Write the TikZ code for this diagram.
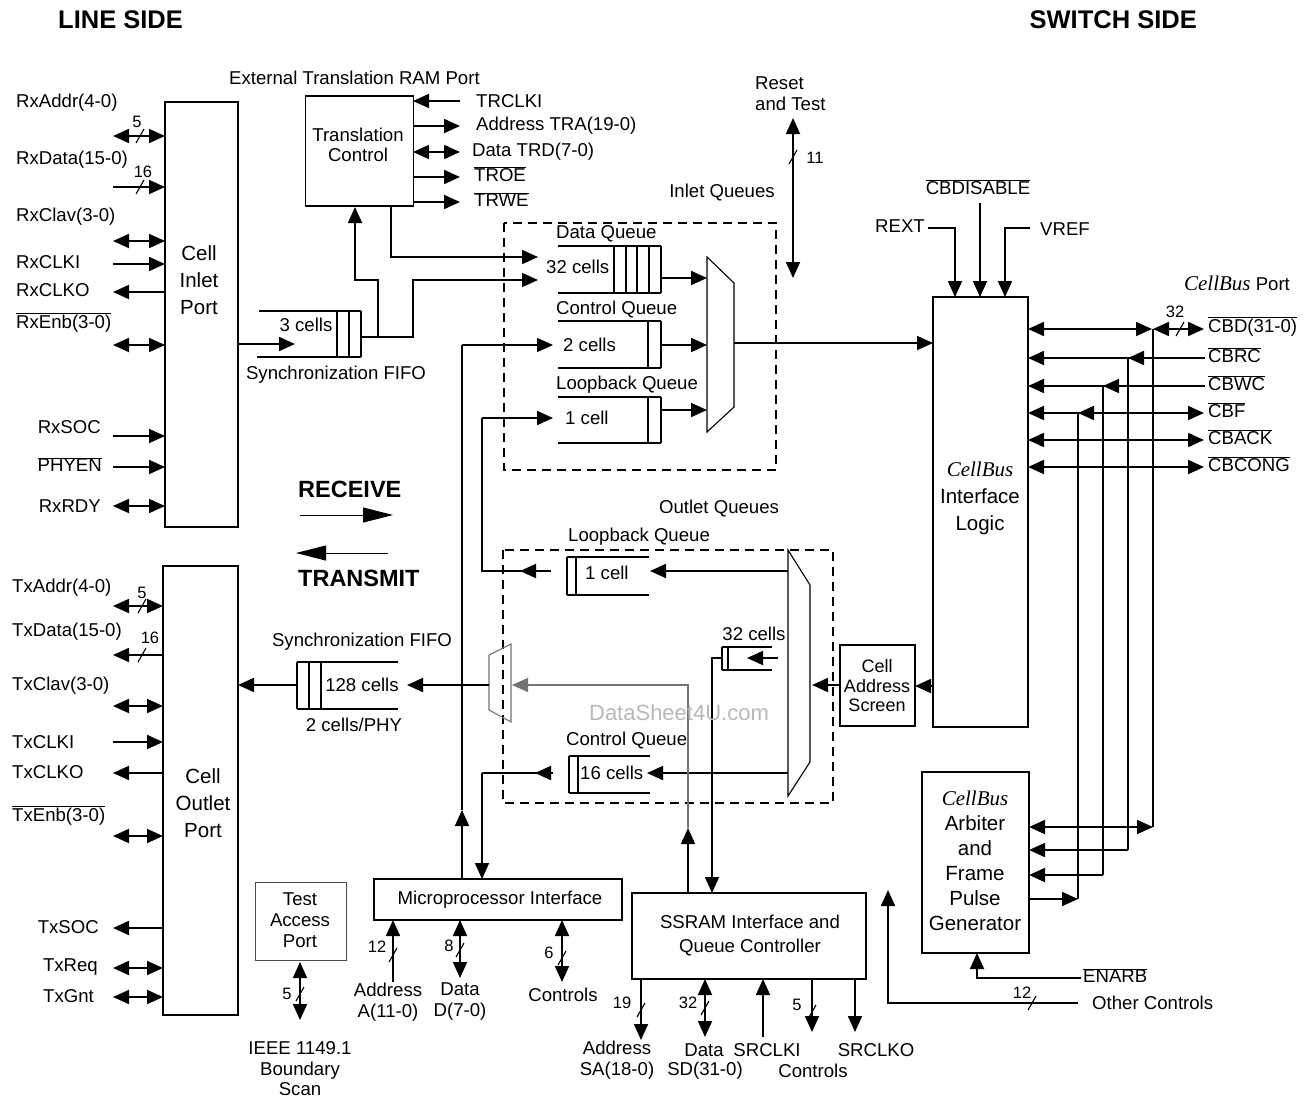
\documentclass[tikz,border=0pt]{standalone}
\usepackage{fontspec}
\setmainfont{Liberation Sans}
\newfontfamily\tms{Liberation Serif}
\usetikzlibrary{arrows.meta,calc}
\newcommand\fsk[1]{\fontsize{18.6}{#1}\selectfont}
\newcommand\fbig{\fontsize{20.5}{27}\selectfont}
\newcommand\fnum{\fontsize{16.5}{18}\selectfont}
\newcommand\fhdr{\fontsize{25.5}{30}\selectfont\bfseries}
\newcommand\fcb{\tms\itshape\fontsize{21}{25}\selectfont}
\newcommand\ovl[1]{$\overline{\hbox{#1}}$}
\newcommand\sigslash[1]{\draw[slashst] (#1) ++(-4,7) -- ++(8,-14);}
\tikzset{
  sig/.style={line width=1.8pt},
  arr/.style={sig,-{Triangle[length=16pt,width=14pt]}},
  darr/.style={sig,{Triangle[length=16pt,width=14pt]}-{Triangle[length=16pt,width=14pt]}},
  blk/.style={draw,line width=1.8pt,inner sep=0pt},
  txt/.style={font=\fsk{21},inner sep=0pt,align=center},
  ovlab/.style={txt,yshift=2.5pt},
  btxt/.style={font=\fbig,inner sep=0pt,align=center},
  num/.style={font=\fnum,inner sep=0pt},
  hdr/.style={font=\fhdr,inner sep=0pt},
  qline/.style={line width=1.8pt},
  muxst/.style={line width=1.1pt},
  dbox/.style={line width=1.8pt,dash pattern=on 9pt off 6pt},
  slashst/.style={line width=1.1pt},
  dirarr/.style={line width=1pt,-{Triangle[length=30pt,width=15pt]}},
}
\begin{document}
\begin{tikzpicture}[x=1pt,y=-1pt]
\useasboundingbox (0,0) rectangle (1308,1098);

% headers
\node[hdr,anchor=west] (lineside) at (58,20) {LINE SIDE};
\node[hdr,anchor=east] (switchside) at (1197,20) {SWITCH SIDE};

% ---------------- Cell Inlet Port ----------------
\node[blk,minimum width=73pt,minimum height=425pt] (inlet) at (201.5,314.5) {};
\node[btxt] (inlettxt) at (199,280) {Cell\\Inlet\\Port};

\node[txt,anchor=west] (rxaddr) at (16,103) {RxAddr(4-0)};
\draw[darr] (113,136) -- (165,136); \sigslash{140,136}
\node[num] (n5a) at (137,122) {5};
\node[txt,anchor=west] (rxdata) at (16,160) {RxData(15-0)};
\draw[arr] (113,187) -- (165,187); \sigslash{140,187}
\node[num] (n16a) at (143,172) {16};
\node[txt,anchor=west] (rxclav) at (16,217) {RxClav(3-0)};
\draw[darr] (113,241) -- (165,241);
\node[txt,anchor=west] (rxclki) at (16,262) {RxCLKI};
\draw[arr] (113,264) -- (165,264);
\node[txt,anchor=west] (rxclko) at (16,290) {RxCLKO};
\draw[arr] (165,292) -- (113,292);
\node[ovlab,anchor=west] (rxenb) at (16,325) {\ovl{RxEnb(3-0)}};
\draw[darr] (113,345) -- (165,345);
\node[txt,anchor=east] (rxsoc) at (101,427) {RxSOC};
\draw[arr] (113,436) -- (165,436);
\node[ovlab,anchor=east] (phyen) at (102,467) {\ovl{PHYEN}};
\draw[arr] (113,467) -- (165,467);
\node[txt,anchor=east] (rxrdy) at (101,506) {RxRDY};
\draw[darr] (113,506) -- (165,506);

% ---------------- Cell Outlet Port ----------------
\node[blk,minimum width=75pt,minimum height=449pt] (outlet) at (200.5,790.5) {};
\node[btxt] (outlettxt) at (203,803) {Cell\\Outlet\\Port};

\node[txt,anchor=west] (txaddr) at (12,588) {TxAddr(4-0)};
\draw[darr] (113,606) -- (163,606); \sigslash{142,606}
\node[num] (n5b) at (142,593) {5};
\node[txt,anchor=west] (txdata) at (12,632) {TxData(15-0)};
\draw[arr] (163,655) -- (113,655); \sigslash{142,655}
\node[num] (n16b) at (150,638) {16};
\node[txt,anchor=west] (txclav) at (12,686) {TxClav(3-0)};
\draw[darr] (113,706) -- (163,706);
\node[txt,anchor=west] (txclki) at (12,742) {TxCLKI};
\draw[arr] (113,742) -- (163,742);
\node[txt,anchor=west] (txclko) at (12,772) {TxCLKO};
\draw[arr] (163,773) -- (113,773);
\node[ovlab,anchor=west] (txenb) at (12,818) {\ovl{TxEnb(3-0)}};
\draw[darr] (113,836) -- (163,836);
\node[txt,anchor=east] (txsoc) at (99,927) {TxSOC};
\draw[arr] (163,928) -- (113,928);
\node[txt,anchor=east] (txreq) at (98,967) {TxReq};
\draw[darr] (113,968) -- (163,968);
\node[txt,anchor=east] (txgnt) at (94,996) {TxGnt};
\draw[darr] (113,997) -- (163,997);

% ---------------- Translation Control ----------------
\node[txt,anchor=west] (ext) at (229,78) {External Translation RAM Port};
\node[blk,minimum width=108pt,minimum height=110pt] (trans) at (359.5,151) {};
\node[txt,font=\fsk{20}] (transtxt) at (358,145) {Translation\\Control};
\draw[arr] (460,101) -- (413,101);
\node[txt,anchor=west] (trclki) at (476,101) {TRCLKI};
\draw[arr] (413,126) -- (460,126);
\node[txt,anchor=west] (tra) at (476,126) {Address TRA(19-0)};
\draw[darr] (413,152) -- (460,152);
\node[txt,anchor=west] (trd) at (472,152) {Data TRD(7-0)};
\draw[arr] (413,177) -- (460,177);
\node[ovlab,anchor=west] (troe) at (474,177) {\ovl{TROE}};
\draw[arr] (413,202) -- (460,202);
\node[ovlab,anchor=west] (trwe) at (474,202) {\ovl{TRWE}};

% links below translation control
\draw[arr] (378,337) -- (378,280) -- (355,280) -- (355,207);
\draw[arr] (391,207) -- (391,257) -- (538,257);
\draw[arr] (361,337) -- (413,337) -- (413,280) -- (538,280);

% 3-cell sync FIFO
\draw[qline] (259,311) -- (361,311);
\draw[qline] (257,357) -- (361,357);
\foreach \xx in {337,349,361} \draw[qline] (\xx,311) -- (\xx,357);
\node[txt] (c3) at (306,325) {3 cells};
\draw[arr] (238,344) -- (295,344);
\node[txt] (sfifo1) at (336,375) {Synchronization FIFO};

% ---------------- Inlet Queues ----------------
\draw[dbox] (504,223) rectangle (776,470);
\node[txt] (inq) at (722,193) {Inlet Queues};

\node[txt,anchor=west] (dq) at (556,234) {Data Queue};
\draw[qline] (558,246) -- (661,246);
\draw[qline] (558,293) -- (661,293);
\foreach \xx in {614,626,637,649,661} \draw[qline] (\xx,246) -- (\xx,293);
\node[txt,anchor=west] (c32a) at (546,267) {32 cells};
\draw[arr] (661,278) -- (707,278);

\node[txt,anchor=west] (cq) at (556,310) {Control Queue};
\draw[qline] (558,321) -- (661,321);
\draw[qline] (558,368) -- (661,368);
\foreach \xx in {648,661} \draw[qline] (\xx,321) -- (\xx,368);
\node[txt,anchor=west] (c2) at (563,345) {2 cells};
\draw[arr] (661,345) -- (707,345);

\node[txt,anchor=west] (lq) at (556,385) {Loopback Queue};
\draw[qline] (558,397) -- (661,397);
\draw[qline] (558,443) -- (661,443);
\foreach \xx in {648,661} \draw[qline] (\xx,397) -- (\xx,443);
\node[txt,anchor=west] (c1a) at (565,418) {1 cell};
\draw[arr] (661,410) -- (707,410);

\draw[muxst] (707,257) -- (734,283) -- (734,407) -- (707,432) -- cycle;
\draw[arr] (734,343) -- (933,343);

% Reset and Test
\node[txt,anchor=west,align=left] (reset) at (755,94) {Reset\\and Test};
\draw[darr] (793,118) -- (793,278); \sigslash{793,157}
\node[num] (n11) at (815,158) {11};

% ---------------- CellBus Interface Logic ----------------
\node[blk,minimum width=95pt,minimum height=430pt] (cbil) at (980.5,512) {};
\node[btxt] (cbiltxt) at (980,498) {{\fcb CellBus}\\Interface\\Logic};

\node[txt,anchor=east] (rext) at (925,226) {REXT};
\draw[arr] (928,228) -- (955,228) -- (955,297);
\node[ovlab] (cbdis) at (978,190) {\ovl{CBDISABLE}};
\draw[arr] (980,203) -- (980,297);
\node[txt,anchor=west] (vref) at (1040,229) {VREF};
\draw[arr] (1030,228) -- (1005,228) -- (1005,297);

\node[txt] (cbport) at (1237,283) {{\fcb CellBus} Port};

% CellBus signals
\draw[darr] (1028,329) -- (1152,329);
\draw[darr] (1153,329) -- (1204,329); \sigslash{1180,329}
\node[num] (n32a) at (1175,312) {32};
\node[ovlab,anchor=west] (cbd) at (1208,329) {\ovl{CBD(31-0)}};
\draw[arr] (1205,358) -- (1028,358);
\draw[arr] (1160,358) -- (1128,358);
\node[ovlab,anchor=west] (cbrc) at (1208,358) {\ovl{CBRC}};
\draw[arr] (1205,386) -- (1028,386);
\draw[arr] (1135,386) -- (1103,386);
\node[ovlab,anchor=west] (cbwc) at (1208,386) {\ovl{CBWC}};
\draw[darr] (1028,413) -- (1204,413);
\draw[arr] (1110,413) -- (1078,413);
\node[ovlab,anchor=west] (cbf) at (1208,413) {\ovl{CBF}};
\draw[darr] (1028,440) -- (1204,440);
\node[ovlab,anchor=west] (cback) at (1208,440) {\ovl{CBACK}};
\draw[darr] (1028,467) -- (1204,467);
\node[ovlab,anchor=west] (cbcong) at (1208,467) {\ovl{CBCONG}};

\draw[sig] (1153,329) -- (1153,827);
\draw[sig] (1128,358) -- (1128,850);
\draw[sig] (1103,386) -- (1103,875);
\draw[sig] (1078,413) -- (1078,899);

% ---------------- Arbiter ----------------
\node[blk,minimum width=107pt,minimum height=181pt] (arb) at (975.5,862.5) {};
\node[btxt,font=\fontsize{20.5}{25}\selectfont] (arbtxt) at (975,861) {{\fcb CellBus}\\Arbiter\\and\\Frame\\Pulse\\Generator};
\draw[darr] (1029,827) -- (1153,827);
\draw[arr] (1128,850) -- (1029,850);
\draw[arr] (1103,875) -- (1029,875);
\draw[arr] (1029,899) -- (1078,899);

\node[ovlab,anchor=west] (enarb) at (1083,978) {\ovl{ENARB}};
\draw[arr] (1081,978) -- (977,978) -- (977,953);
\node[txt,anchor=west] (othc) at (1092,1003) {Other Controls};
\draw[arr] (1078,1003) -- (888,1003) -- (888,890); \sigslash{1032,1003}
\node[num] (n12b) at (1022,993) {12};

% ---------------- Cell Address Screen ----------------
\node[blk,minimum width=75pt,minimum height=81pt] (screen) at (877.5,685.5) {};
\node[txt,font=\fontsize{18}{19.5}\selectfont] (screentxt) at (877,686) {Cell\\Address\\Screen};
\draw[arr] (933,686) -- (915,686);
\draw[arr] (840,685) -- (812,685);

% ---------------- Outlet Queues ----------------
\draw[dbox] (503,550) rectangle (833,803);
\node[txt] (outq) at (719,509) {Outlet Queues};
\node[txt,anchor=west] (olq) at (568,537) {Loopback Queue};

\draw[muxst] (788,550) -- (810,585) -- (810,762) -- (788,796) -- cycle;

% outlet loopback queue
\draw[qline] (567,557) -- (649,557);
\draw[qline] (567,595) -- (649,595);
\foreach \xx in {567,576} \draw[qline] (\xx,557) -- (\xx,595);
\node[txt,anchor=west] (c1b) at (585,573) {1 cell};
\draw[arr] (788,571) -- (650,571);
\draw[sig] (551,571) -- (482,571) -- (482,418);
\draw[arr] (551,571) -- (520,571);
\draw[arr] (482,418) -- (553,418);

% 32 cells queue
\node[txt] (c32b) at (754,634) {32 cells};
\draw[qline] (722,647) -- (772,647);
\draw[qline] (722,670) -- (772,670);
\foreach \xx in {722,728} \draw[qline] (\xx,647) -- (\xx,670);
\draw[arr] (778,658) -- (747,658);
\draw[arr] (722,658) -- (712,658) -- (712,893);

% outlet control queue
\node[txt,anchor=west] (ocq) at (566,741) {Control Queue};
\draw[qline] (569,756) -- (650,756);
\draw[qline] (569,793) -- (650,793);
\foreach \xx in {569,578} \draw[qline] (\xx,756) -- (\xx,793);
\node[txt,anchor=west] (c16) at (580,773) {16 cells};
\draw[arr] (788,773) -- (647,773);
\draw[sig] (553,773) -- (482,773);
\draw[arr] (553,773) -- (535,773);
\draw[arr] (482,773) -- (482,879);

% small mux and SSRAM path
\draw[muxst,draw=black!55] (489,655) -- (511,644) -- (511,722) -- (489,710) -- cycle;
\draw[line width=1.1pt,draw=black!55,-{Triangle[length=16pt,width=14pt]}] (688,828) -- (688,685) -- (512,685);
\draw[arr] (688,893) -- (688,828);
\draw[arr] (489,685) -- (407,685);

% 128 cells sync FIFO
\node[txt] (sfifo2) at (362,642) {Synchronization FIFO};
\draw[qline] (297,662) -- (398,662);
\draw[qline] (297,709) -- (398,709);
\foreach \xx in {297,309,321} \draw[qline] (\xx,662) -- (\xx,709);
\node[txt] (c128) at (362,685) {128 cells};
\node[txt] (cphy) at (354,725) {2 cells/PHY};
\draw[arr] (297,685) -- (238,685);

% microprocessor path to inlet control queue
\draw[arr] (462,879) -- (462,810);
\draw[sig] (462,810) -- (462,345);
\draw[arr] (462,345) -- (553,345);

% ---------------- RECEIVE / TRANSMIT ----------------
\node[hdr,font=\fontsize{23.5}{28}\selectfont\bfseries,anchor=west] (recv) at (298,489) {RECEIVE};
\draw[dirarr] (300,515) -- (393,515);
\node[hdr,font=\fontsize{23.5}{28}\selectfont\bfseries,anchor=west] (xmit) at (298,578) {TRANSMIT};
\draw[dirarr] (388,553) -- (296,553);

% watermark
\node[txt,font=\fontsize{22}{26}\selectfont,text=black!28] (wm) at (679,713) {DataSheet4U.com};

% ---------------- Microprocessor Interface ----------------
\node[blk,minimum width=248pt,minimum height=41pt] (micro) at (498,899.5) {};
\node[txt] (microtxt) at (500,900) {Microprocessor Interface};
\draw[arr] (393,982) -- (393,920); \sigslash{393,955}
\node[num] (n12a) at (377,947) {12};
\node[txt] (maddr) at (388,1002) {Address\\A(11-0)};
\draw[darr] (460,920) -- (460,978); \sigslash{460,950}
\node[num] (n8) at (449,946) {8};
\node[txt] (mdata) at (460,1002) {Data\\D(7-0)};
\draw[darr] (562,920) -- (562,982); \sigslash{562,958}
\node[num] (n6) at (549,953) {6};
\node[txt] (mctl) at (563,995) {Controls};

% ---------------- SSRAM ----------------
\node[blk,minimum width=234pt,minimum height=86pt] (ssram) at (749,936) {};
\node[txt,font=\fsk{24}] (ssramtxt) at (750,936) {SSRAM Interface and\\Queue Controller};
\draw[arr] (641,979) -- (641,1040); \sigslash{641,1010}
\node[num] (n19) at (622,1003) {19};
\node[txt] (saddr) at (617,1060) {Address\\SA(18-0)};
\draw[darr] (705,979) -- (705,1037); \sigslash{705,1008}
\node[num] (n32b) at (688,1003) {32};
\node[txt] (sdata) at (704,1050) {Data};
\node[txt] (sd) at (705,1071) {SD(31-0)};
\draw[arr] (763,1037) -- (763,979);
\node[txt] (srclki) at (767,1050) {SRCLKI};
\draw[arr] (812,979) -- (812,1032); \sigslash{812,1012}
\node[num] (n5c) at (797,1005) {5};
\node[txt] (sctl) at (813,1071) {Controls};
\draw[arr] (855,979) -- (855,1032);
\node[txt] (srclko) at (876,1050) {SRCLKO};

% ---------------- Test Access Port ----------------
\node[draw=black!70,line width=1pt,minimum width=91pt,minimum height=78pt,inner sep=0pt] (tap) at (300.5,921) {};
\node[txt] (taptxt) at (300,920) {Test\\Access\\Port};
\draw[darr] (300,962) -- (300,1020); \sigslash{300,994}
\node[num] (n5d) at (287,994) {5};
\node[txt,font=\fsk{20.5}] (ieee) at (300,1069) {IEEE 1149.1\\Boundary\\Scan};
\end{tikzpicture}
\end{document}
